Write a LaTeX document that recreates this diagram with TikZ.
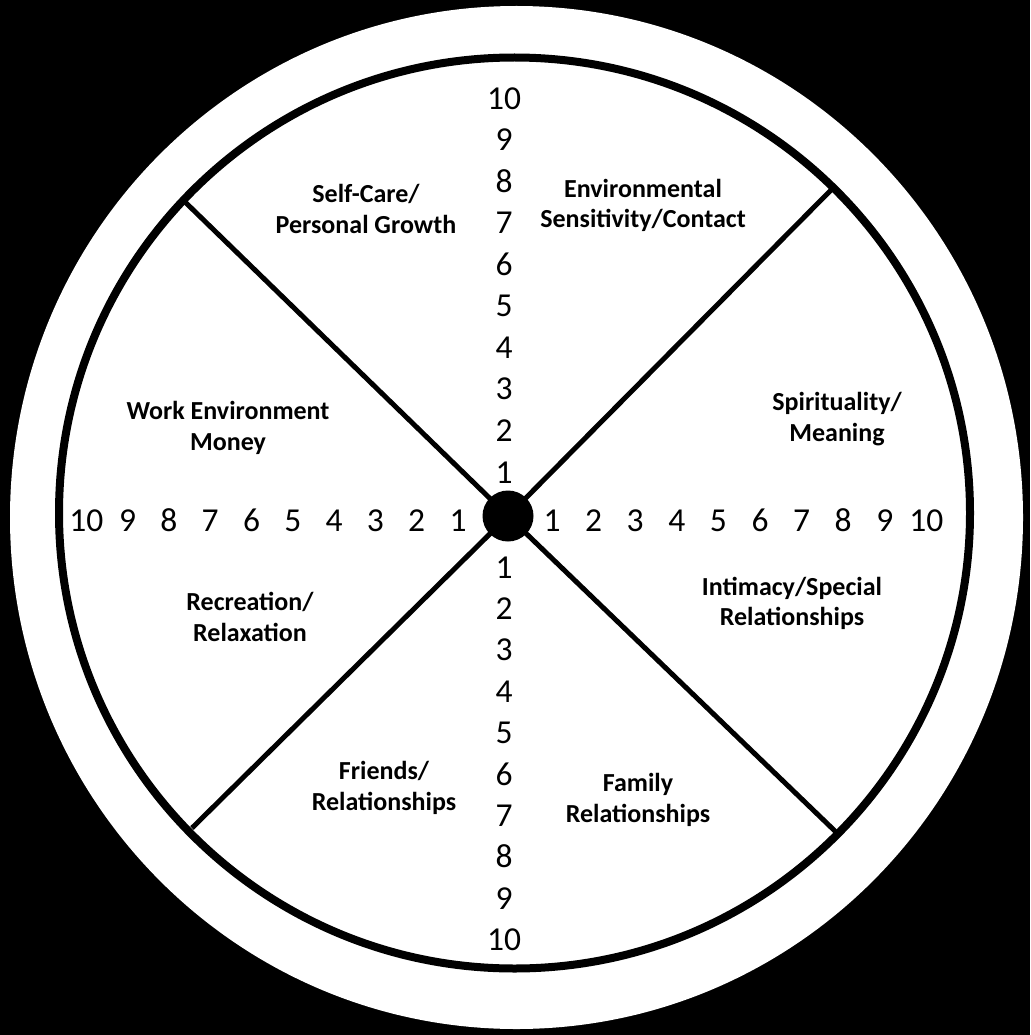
\documentclass[tikz,border=0pt]{standalone}
\usepackage{fontspec}
\setmainfont{Carlito}
\begin{document}
\begin{tikzpicture}[x=1pt,y=-1pt,
  num/.style={inner sep=0pt, text height=22pt, text depth=0pt, font=\fontsize{33.5}{36}\selectfont},
  lab/.style={align=center, inner sep=0pt, font=\bfseries\fontsize{26}{30.5}\selectfont},
  spoke/.style={line width=5pt},
  rim/.style={line width=8pt},
  hubstyle/.style={circle, fill=black, minimum size=51pt, inner sep=0pt}
]
\useasboundingbox (0,0) rectangle (1030,1035);
\fill[black] (0,0) rectangle (1030,1035);
\fill[white] (516.5,517.5) ellipse [x radius=506.5, y radius=511.5];
\draw[rim] (514.5,513) circle [radius=455.5];

\coordinate (ul) at (183,200);
\coordinate (ur) at (833,188);
\coordinate (ll) at (192,828);
\coordinate (lr) at (837,833);
\node[hubstyle] (hub) at (508,516) {};
\draw[spoke] (hub.center) -- (ul);
\draw[spoke] (hub.center) -- (ur);
\draw[spoke] (hub.center) -- (ll);
\draw[spoke] (hub.center) -- (lr);

\foreach \i in {1,...,10} {
  \node[num] (t\i) at (504, {472-41.55*(\i-1)}) {\i};
  \node[num] (b\i) at (504, {567+41.4*(\i-1)}) {\i};
  \node[num] (l\i) at ({458-41.3*(\i-1)}, 520) {\i};
  \node[num] (r\i) at ({552+41.6*(\i-1)}, 520) {\i};
}

\node[lab] (selfcare) at (366,212) {\strut Self-Care/\\\strut Personal Growth};
\node[lab] (envir) at (643,206.5) {\strut Environmental\\\strut Sensitivity/Contact};
\node[lab] (work) at (228,429) {\strut Work Environment\\\strut Money};
\node[lab] (spirit) at (837,420) {\strut Spirituality/\\\strut Meaning};
\node[lab] (intim) at (792,604.5) {\strut Intimacy/Special\\\strut Relationships};
\node[lab] (recre) at (250,620) {\strut Recreation/\\\strut Relaxation};
\node[lab] (friends) at (384,789) {\strut Friends/\\\strut Relationships};
\node[lab] (family) at (638,801) {\strut Family\\\strut Relationships};
\end{tikzpicture}
\end{document}
